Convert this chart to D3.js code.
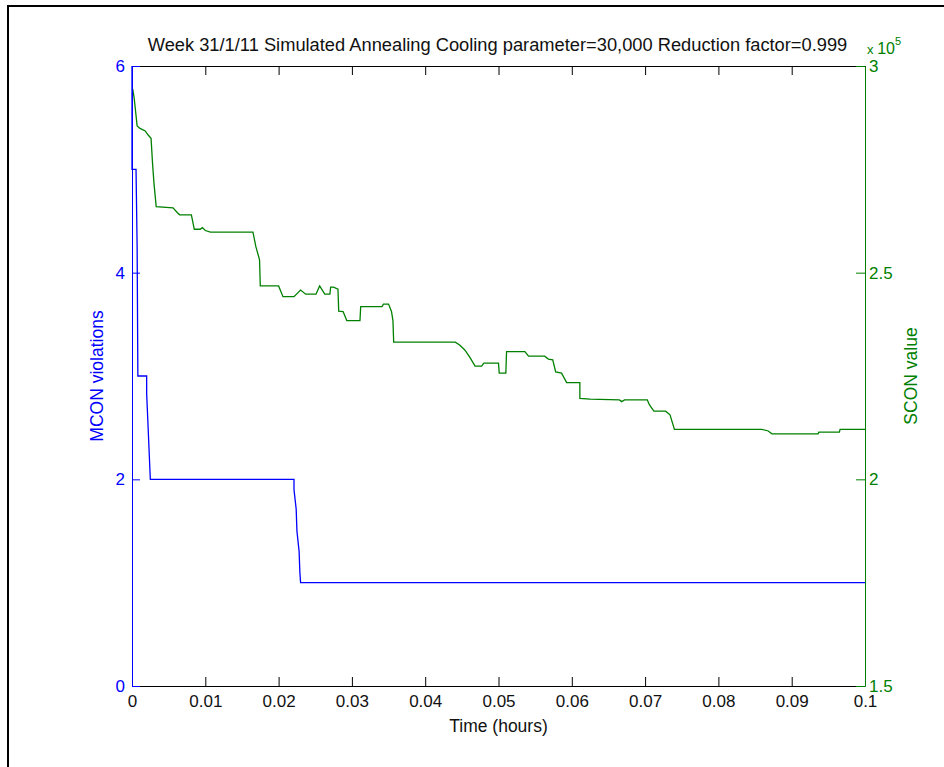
<!DOCTYPE html>
<html>
<head>
<meta charset="utf-8">
<script src="https://cdn.jsdelivr.net/npm/d3@7"></script>
<style>
  body { margin: 0; background: #fff; }
  svg { display: block; font-family: "Liberation Sans", Arial, Helvetica, sans-serif; }
</style>
</head>
<body>
<div id="chart"></div>
<script>
// MCON violations (left axis), step trace
var mconTime = [0, 0, 0.00055, 0.0006, 0.0007, 0.0008, 0.0020, 0.0020, 0.0022, 0.0025,
    0.0221, 0.0221, 0.0224, 0.0225, 0.0228, 0.0229, 0.0230, 0.1];
var mconValue = [6, 5, 5, 4.75, 4.25, 3, 3, 2.83, 2.5, 2,
    2, 1.9, 1.71, 1.5, 1.3, 1.1, 1, 1];

// SCON value (right axis)
var sconTime = [0.0001, 0.0003, 0.0007, 0.0011, 0.0018, 0.0022, 0.0026, 0.0028, 0.0030, 0.0033,
    0.0056, 0.0062, 0.0065, 0.0081, 0.0085, 0.0093, 0.0096, 0.0100, 0.0107, 0.0165,
    0.0169, 0.0174, 0.0175, 0.0200, 0.0206, 0.0221, 0.0230, 0.0237, 0.0251, 0.0256,
    0.0263, 0.0270, 0.0271, 0.0275, 0.0281, 0.0282, 0.0288, 0.0293, 0.0311, 0.0312,
    0.0341, 0.0343, 0.0350, 0.0354, 0.0356, 0.0357, 0.0441, 0.0447, 0.0454, 0.0461,
    0.0468, 0.0477, 0.0480, 0.0500, 0.0501, 0.0510, 0.0511, 0.0536, 0.0541, 0.0563,
    0.0568, 0.0574, 0.0578, 0.0586, 0.0593, 0.0611, 0.0611, 0.0625, 0.0665, 0.0668,
    0.0672, 0.0703, 0.0706, 0.0712, 0.0728, 0.0734, 0.0740, 0.0859, 0.0868, 0.0873,
    0.0936, 0.0937, 0.0965, 0.0966, 0.1000];
var sconValue = [294400, 292200, 285500, 284900, 284300, 283300, 282500, 276500, 271600, 266000,
    265700, 264500, 264000, 264000, 260500, 260500, 260900, 260200, 259800, 259800,
    256300, 253100, 246800, 246800, 244200, 244200, 245800, 244800, 244800, 246800,
    244800, 244800, 246500, 246500, 246000, 240700, 240600, 238400, 238400, 241800,
    241800, 242400, 242400, 240600, 238400, 233200, 233200, 232500, 231300, 229500,
    227400, 227400, 228100, 228100, 225700, 225700, 230900, 230900, 229800, 229800,
    229100, 228900, 226000, 225700, 223400, 223400, 219600, 219400, 219200, 218800,
    219200, 219200, 218000, 216500, 216500, 215600, 212100, 212100, 211700, 211000,
    211000, 211400, 211400, 212100, 212100];

var xTicks = [0, 0.01, 0.02, 0.03, 0.04, 0.05, 0.06, 0.07, 0.08, 0.09, 0.1];
var xTickLabels = ["0", "0.01", "0.02", "0.03", "0.04", "0.05", "0.06", "0.07", "0.08", "0.09", "0.1"];
var leftTicks = [0, 2, 4, 6];
var leftTickLabels = ["0", "2", "4", "6"];
var rightTicks = [150000, 200000, 250000, 300000];
var rightTickLabels = ["1.5", "2", "2.5", "3"];

var titleText = "Week 31/1/11 Simulated Annealing Cooling parameter=30,000 Reduction factor=0.999";

var blue = "#0000ff", green = "#008000", ink = "#111";

var margin = {top: 66, right: 79, bottom: 81, left: 132},
    W = 944, H = 767,
    width = W - margin.left - margin.right,
    height = H - margin.top - margin.bottom;

var svg = d3.select("#chart").append("svg")
    .attr("width", W)
    .attr("height", H);

// outer frame (only left and top edges show)
svg.append("path")
    .attr("d", "M8," + H + "V6H" + W)
    .attr("fill", "none")
    .attr("stroke", "#000")
    .attr("stroke-width", 2);

var g = svg.append("g")
    .attr("transform", "translate(" + margin.left + "," + margin.top + ")");

var x = d3.scaleLinear().domain([0, 0.1]).range([0, width]);
var yL = d3.scaleLinear().domain([0, 6]).range([height, 0]);
var yR = d3.scaleLinear().domain([150000, 300000]).range([height, 0]);

// series
var mcon = mconTime.map(function(t, i) { return [t, mconValue[i]]; });
var scon = sconTime.map(function(t, i) { return [t, sconValue[i]]; });

g.append("path")
    .datum(scon)
    .attr("fill", "none")
    .attr("stroke", green)
    .attr("stroke-width", 1.3)
    .attr("d", d3.line().x(function(d) { return x(d[0]); }).y(function(d) { return yR(d[1]); }));

g.append("path")
    .datum(mcon)
    .attr("fill", "none")
    .attr("stroke", blue)
    .attr("stroke-width", 1.3)
    .attr("d", d3.line().x(function(d) { return x(d[0]); }).y(function(d) { return yL(d[1]); }));

// axes
var xAxisBottom = g.append("g")
    .attr("transform", "translate(0," + height + ")")
    .call(d3.axisBottom(x).tickValues(xTicks)
        .tickFormat(function(d, i) { return xTickLabels[i]; })
        .tickSizeInner(-9).tickSizeOuter(0).tickPadding(9));

var xAxisTop = g.append("g")
    .call(d3.axisTop(x).tickValues(xTicks).tickFormat("")
        .tickSizeInner(-9).tickSizeOuter(0));

var yAxisLeft = g.append("g")
    .call(d3.axisLeft(yL).tickValues(leftTicks)
        .tickFormat(function(d, i) { return leftTickLabels[i]; })
        .tickSizeInner(-8).tickSizeOuter(0).tickPadding(7));

var yAxisRight = g.append("g")
    .attr("transform", "translate(" + width + ",0)")
    .call(d3.axisRight(yR).tickValues(rightTicks)
        .tickFormat(function(d, i) { return rightTickLabels[i]; })
        .tickSizeInner(-9).tickSizeOuter(0).tickPadding(4));

[xAxisBottom, xAxisTop].forEach(function(a) {
    a.selectAll("path, line").attr("stroke", "#000");
    a.selectAll("text").attr("fill", ink);
});
yAxisLeft.selectAll("path, line").attr("stroke", blue);
yAxisLeft.selectAll("text").attr("fill", blue);
yAxisRight.selectAll("path, line").attr("stroke", green);
yAxisRight.selectAll("text").attr("fill", green);
g.selectAll("g").attr("font-family", null).attr("font-size", null);
g.selectAll(".tick text").style("font-size", "17px");

// title
svg.append("text")
    .attr("x", margin.left + width / 2 - 1)
    .attr("y", 51)
    .attr("text-anchor", "middle")
    .attr("fill", ink)
    .style("font-size", "18.3px")
    .text(titleText);

// exponent above the right axis
var expo = svg.append("text")
    .attr("x", margin.left + width + 2)
    .attr("y", 54)
    .attr("fill", green)
    .style("font-size", "16px");
expo.append("tspan").style("font-size", "13px").text("x ");
expo.append("tspan").text("10");
expo.append("tspan").attr("dy", -9).style("font-size", "11px").text("5");

// axis labels
svg.append("text")
    .attr("x", margin.left + width / 2)
    .attr("y", 732)
    .attr("text-anchor", "middle")
    .attr("fill", ink)
    .style("font-size", "17.5px")
    .text("Time (hours)");

svg.append("text")
    .attr("transform", "translate(103," + (margin.top + height / 2) + ") rotate(-90)")
    .attr("text-anchor", "middle")
    .attr("fill", blue)
    .style("font-size", "17.5px")
    .text("MCON violations");

svg.append("text")
    .attr("transform", "translate(917," + (margin.top + height / 2) + ") rotate(-90)")
    .attr("text-anchor", "middle")
    .attr("fill", green)
    .style("font-size", "17.5px")
    .text("SCON value");
</script>
</body>
</html>
